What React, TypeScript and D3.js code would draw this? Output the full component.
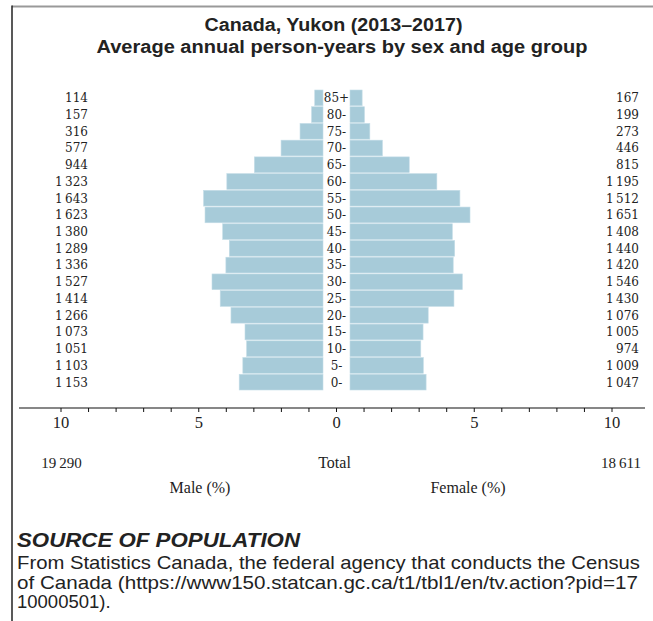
import React from "react";
import * as d3 from "d3";

const AGE_GROUPS = ["85+", "80-", "75-", "70-", "65-", "60-", "55-", "50-", "45-", "40-", "35-", "30-", "25-", "20-", "15-", "10-", "5-", "0-"];
const MALE = [114, 157, 316, 577, 944, 1323, 1643, 1623, 1380, 1289, 1336, 1527, 1414, 1266, 1073, 1051, 1103, 1153];
const FEMALE = [167, 199, 273, 446, 815, 1195, 1512, 1651, 1408, 1440, 1420, 1546, 1430, 1076, 1005, 974, 1009, 1047];
const TOTAL_MALE = 19290;
const TOTAL_FEMALE = 18611;
const MAJOR_TICKS = [-10, -5, 0, 5, 10];
const MINOR_TICKS = d3.range(-10, 11, 1);

const TITLE_1 = "Canada, Yukon (2013\u20132017)";
const TITLE_2 = "Average annual person-years by sex and age group";
const SOURCE_HEAD = "SOURCE OF POPULATION";
const SOURCE_LINES = [
  "From Statistics Canada, the federal agency that conducts the Census",
  "of Canada (https://www150.statcan.gc.ca/t1/tbl1/en/tv.action?pid=17",
  "10000501).",
];
const SOURCE_WIDTHS = [623, 621, 0];

const fmt = (v: number) => d3.format(",")(v).replace(/,/g, "\u2009");

export default function App() {
  const W = 653, H = 621;
  const grand = TOTAL_MALE + TOTAL_FEMALE;
  const axisX = d3.scaleLinear().domain([-10, 10]).range([61, 612]);
  const len = d3.scaleLinear().domain([0, 10]).range([0, axisX(10) - axisX(0)]);
  const y = d3.scaleBand<string>().domain(AGE_GROUPS).range([90, 390]).paddingInner(0.06).paddingOuter(0);
  const maleEdge = 323;
  const femaleEdge = 350;
  const center = 336.5;
  const axisY = 408;
  const barFill = "#a7cbd9";
  const serif = "'DejaVu Serif', serif";
  const times = "'Liberation Serif', 'Times New Roman', serif";
  const sans = "'Liberation Sans', Arial, sans-serif";

  return (
    <svg width={W} height={H} style={{ position: "absolute", left: 0, top: 0, background: "#fff" }}>
      <rect x={0} y={0} width={W} height={H} fill="#fff" />
      {/* frame */}
      <line x1={12} x2={W} y1={6.5} y2={6.5} stroke="#999" strokeWidth={2} />
      <line x1={12} x2={12} y1={5.5} y2={H} stroke="#222" strokeWidth={1.5} />

      {/* title */}
      <text x={333.5} y={31} textAnchor="middle" fontFamily={sans} fontWeight={700} fontSize={18} fill="#222"
        textLength={258} lengthAdjust="spacingAndGlyphs">{TITLE_1}</text>
      <text x={342} y={53} textAnchor="middle" fontFamily={sans} fontWeight={700} fontSize={18} fill="#222"
        textLength={491} lengthAdjust="spacingAndGlyphs">{TITLE_2}</text>

      {/* bars */}
      {AGE_GROUPS.map((g, i) => {
        const mw = len((MALE[i] / grand) * 100);
        const fw = len((FEMALE[i] / grand) * 100);
        const yy = y(g)!;
        const bh = y.bandwidth();
        const cy = yy + bh / 2;
        return (
          <g key={g}>
            <rect x={maleEdge - mw} y={yy} width={mw} height={bh} fill={barFill} stroke="#c4dde7" strokeWidth={0.6} />
            <rect x={femaleEdge} y={yy} width={fw} height={bh} fill={barFill} stroke="#c4dde7" strokeWidth={0.6} />
            <text x={center} y={cy + 4.4} textAnchor="middle" fontFamily={serif} fontSize={12} fill="#222">{g}</text>
            <text x={88} y={cy + 4.4} textAnchor="end" fontFamily={serif} fontSize={12} fill="#222">{fmt(MALE[i])}</text>
            <text x={639} y={cy + 4.4} textAnchor="end" fontFamily={serif} fontSize={12} fill="#222">{fmt(FEMALE[i])}</text>
          </g>
        );
      })}

      {/* axis */}
      <line x1={19} x2={645} y1={axisY} y2={axisY} stroke="#111" strokeWidth={1.2} />
      {MINOR_TICKS.map((t) => (
        <line key={t} x1={axisX(t)} x2={axisX(t)} y1={axisY} y2={axisY + 4} stroke="#111" strokeWidth={1} />
      ))}
      {MAJOR_TICKS.map((t) => (
        <text key={t} x={axisX(t)} y={428} textAnchor="middle" fontFamily={times} fontSize={16.5} fill="#222">{Math.abs(t)}</text>
      ))}

      <text x={61.5} y={468} textAnchor="middle" fontFamily={times} fontSize={15} fill="#222">{fmt(TOTAL_MALE)}</text>
      <text x={334.5} y={468} textAnchor="middle" fontFamily={times} fontSize={16} fill="#222">Total</text>
      <text x={641} y={468} textAnchor="end" fontFamily={times} fontSize={15} fill="#222">{fmt(TOTAL_FEMALE)}</text>
      <text x={200} y={493} textAnchor="middle" fontFamily={times} fontSize={16} fill="#222">Male (%)</text>
      <text x={468} y={493} textAnchor="middle" fontFamily={times} fontSize={16} fill="#222">Female (%)</text>

      {/* source */}
      <text x={17} y={547} fontFamily={sans} fontWeight={700} fontStyle="italic" fontSize={20} fill="#222"
        textLength={283} lengthAdjust="spacingAndGlyphs">{SOURCE_HEAD}</text>
      {SOURCE_LINES.map((l, i) => (
        <text key={i} x={17} y={569 + i * 19.5} fontFamily={sans} fontSize={18.5} fill="#222"
          {...(SOURCE_WIDTHS[i] ? { textLength: SOURCE_WIDTHS[i], lengthAdjust: "spacingAndGlyphs" } : {})}>{l}</text>
      ))}
    </svg>
  );
}
